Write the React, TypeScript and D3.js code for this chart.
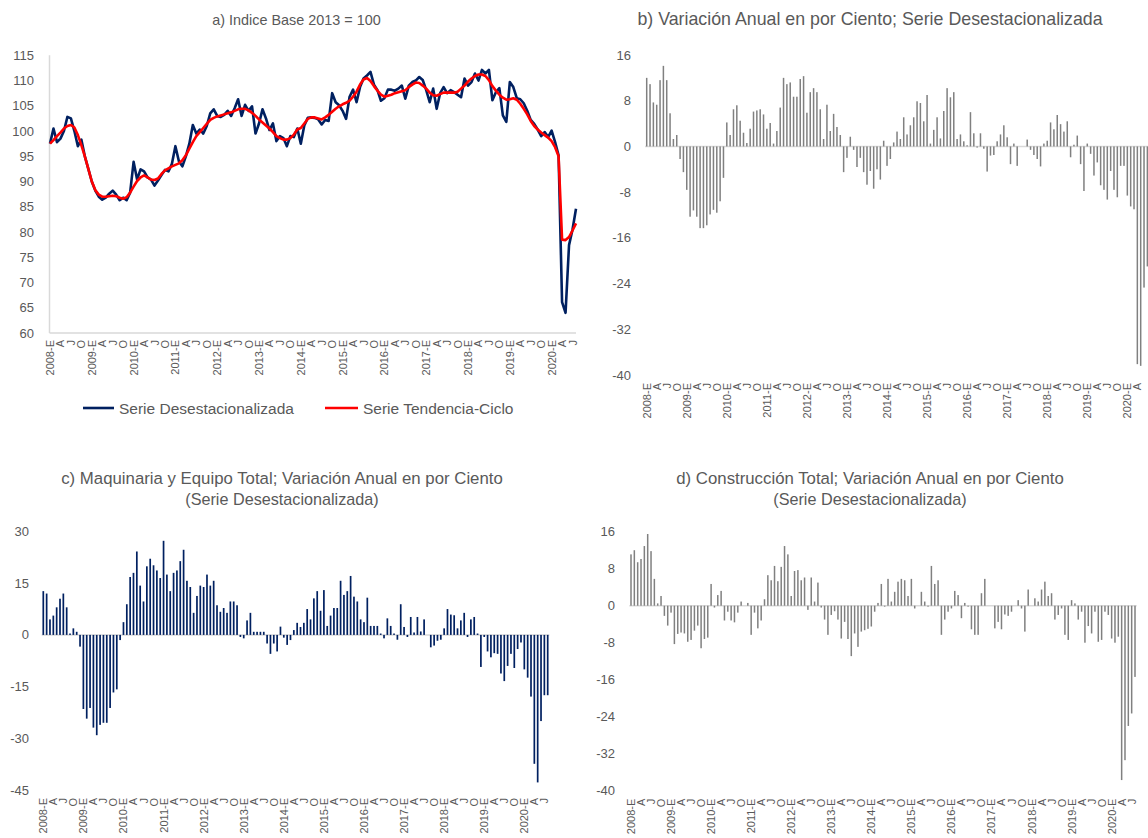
import React from 'react';
import * as d3 from 'd3';

// ---------- categories (2008-01 .. 2020-08) ----------
const startYear = 2008;
const nMonths = 152;
const months: string[] = Array.from({ length: nMonths }, (_, i) =>
  `${startYear + Math.floor(i / 12)}-${String((i % 12) + 1).padStart(2, '0')}`
);
const quarterLetters: Record<number, string> = { 0: 'E', 3: 'A', 6: 'J', 9: 'O' };

// ---------- series ----------
const serieDesestacionalizada = [
  97.5, 100.5, 97.8, 98.5, 100.0, 102.8, 102.5, 100.0, 97.0, 98.3, 95.0, 92.5,
  90.0, 88.2, 87.0, 86.4, 86.8, 87.6, 88.2, 87.4, 86.3, 86.8, 86.3, 87.8,
  93.9, 90.4, 92.4, 92.0, 90.8, 90.4, 89.2, 90.2, 91.3, 92.3, 92.0, 93.5,
  97.0, 94.0, 93.0, 95.0, 97.5, 101.2, 99.5, 100.3, 99.5, 101.0, 103.5, 104.3,
  103.0, 102.8, 103.2, 104.0, 103.0, 104.5, 106.3, 103.0, 105.2, 104.0, 104.9, 99.5,
  101.5, 104.3, 102.5, 100.2, 101.5, 98.0, 99.0, 98.6, 97.0, 99.0, 98.8, 100.5,
  97.5, 101.1, 102.6, 102.7, 102.6, 102.3, 101.3, 102.2, 102.0, 107.5, 105.7, 105.1,
  104.0, 102.4, 106.8, 108.2, 105.7, 108.7, 110.4, 111.0, 111.7, 109.2, 108.1, 106.0,
  106.5, 108.2, 108.2, 108.0, 108.4, 109.0, 106.4, 109.0, 109.7, 110.0, 110.7, 110.1,
  108.1, 105.7, 108.4, 104.4, 107.5, 108.7, 107.5, 108.1, 107.7, 107.2, 106.7, 110.4,
  109.0, 109.7, 111.4, 110.0, 112.1, 111.4, 112.1, 106.1, 107.7, 108.5, 103.1, 101.8,
  109.7, 108.7, 106.5, 106.3, 105.5, 104.0, 102.2, 101.4, 100.3, 99.0, 99.8, 98.8,
  100.1, 97.8, 95.2, 66.1, 64.0, 77.4, 80.5, 84.6,
];

const serieTendenciaCiclo = [
  97.5, 98.2, 99.0, 99.7, 100.5, 101.0, 101.2, 100.7, 99.2, 97.2, 95.0, 92.5,
  90.0, 88.3, 87.4, 87.0, 87.0, 87.1, 87.2, 87.1, 86.8, 86.6, 86.9, 87.8,
  89.0, 90.1, 90.8, 91.2, 90.8, 90.4, 90.3, 90.6, 91.5, 92.2, 92.6, 93.0,
  93.3, 93.6, 94.2, 95.2, 96.5, 97.8, 99.0, 99.8, 100.6, 101.4, 102.2, 102.6,
  102.9, 103.1, 103.3, 103.5, 103.7, 104.0, 104.3, 104.4, 104.4, 104.1, 103.6, 103.0,
  102.3, 101.7, 101.1, 100.5, 99.8, 99.0, 98.6, 98.3, 98.3, 98.6, 99.3, 100.3,
  100.6, 101.5, 102.4, 102.7, 102.7, 102.5, 102.3, 102.7, 103.2, 103.8, 104.4, 104.9,
  105.3, 105.6, 106.0, 106.8, 107.8, 109.2, 110.2, 110.5, 109.9, 108.9, 108.0, 107.2,
  106.8, 107.0, 107.2, 107.5, 107.7, 107.9, 108.1, 108.7, 109.2, 109.6, 109.5, 109.0,
  108.4, 107.6, 107.1, 107.0, 107.3, 107.6, 107.6, 107.6, 107.6, 107.8, 108.4, 109.0,
  109.8, 110.4, 110.9, 111.2, 111.2, 110.9, 110.1, 108.9, 108.0, 107.2, 106.6, 106.2,
  106.3, 106.5, 106.2, 105.4, 104.4, 103.3, 102.0, 101.0, 100.3, 99.7, 99.2, 98.7,
  98.0, 96.8, 95.0, 78.5, 78.4, 79.0, 80.3, 81.7,
];

const variacionTotal = [
  12.0, 10.9, 7.7, 7.3, 11.6, 14.1, 11.6, 5.8, 1.3, 2.0, -2.2, -4.5,
  -7.6, -12.3, -11.2, -12.3, -14.3, -14.3, -13.8, -11.9, -11.1, -11.6, -9.6, -5.5,
  4.2, 2.0, 6.5, 7.2, 4.5, 2.4, 0.6, 3.1, 6.1, 6.3, 6.5, 5.6,
  3.1, 4.1, 0.5, 2.7, 6.8, 12.0, 10.9, 11.2, 8.7, 8.7, 11.8, 12.3,
  5.9, 9.5, 10.2, 9.5, 6.5, 1.3, 7.3, 2.7, 5.7, 3.4, 2.0, -4.5,
  -2.0, 1.7, -0.6, -3.6, -2.0, -4.5, -6.7, -4.3, -7.4, -4.0, -5.8, 1.0,
  -3.4, -2.2, 0.7, 2.6, 1.3, 5.1, 2.1, 3.7, 5.1, 7.9, 7.6, 4.4,
  9.0, 0.5, 2.9, 5.1, 1.4, 6.2, 10.2, 8.6, 9.5, 1.3, 2.1, 0.9,
  0.2, 6.0, 2.3, -0.2, 2.3, -0.4, -4.4, -1.6, -1.5, 0.9, 2.1, 3.7,
  1.6, -3.1, 0.5, -3.4, 0.0, 0.0, 1.2, -0.6, -1.5, -2.2, -3.5, 0.5,
  1.0, 4.2, 3.0, 5.5, 3.9, 2.6, 4.4, -1.9, 0.3, 1.9, -3.1, -7.8,
  0.5, -1.3, -5.1, -2.8, -6.8, -7.6, -9.3, -4.3, -7.6, -8.9, -3.4, -3.4,
  -8.6, -10.5, -11.0, -38.1, -38.4, -24.7, -21.0, -18.0,
];

const variacionMaquinaria = [
  12.7, 12.0, 4.5, 5.6, 8.0, 10.5, 12.0, 8.0, 0.4, 1.9, 0.9, -3.4,
  -21.5, -24.3, -21.2, -26.9, -29.1, -26.1, -25.5, -25.5, -21.2, -16.7, -15.8, -1.5,
  3.7, 8.9, 16.8, 18.0, 24.2, 14.3, 9.7, 19.9, 22.1, 20.2, 18.7, 16.5,
  27.3, 17.5, 12.7, 18.0, 18.7, 21.4, 24.7, 15.7, 13.9, 6.4, 11.3, 14.3,
  13.9, 17.5, 14.3, 15.7, 8.6, 6.7, 7.8, 6.4, 9.7, 9.7, 8.6, -0.6,
  -1.0, 4.2, 6.4, 0.9, 0.9, 0.9, 0.9, -2.5, -5.5, -2.5, -4.8, 2.4,
  -0.8, -2.9, -1.5, 1.4, 3.5, 2.3, 3.5, 7.5, 4.5, 10.6, 12.7, 7.0,
  13.0, 2.6, 5.6, 7.8, 7.8, 15.7, 11.6, 12.7, 17.1, 11.1, 9.7, 4.5,
  3.7, 10.8, 2.6, 2.6, 2.6, 0.4, -1.0, 4.8, 2.6, 0.4, -1.4, 8.9,
  2.3, -0.6, 5.2, 0.7, 5.2, 1.0, 4.5, 0.0, -3.6, -3.1, -1.7, -1.4,
  1.9, 7.5, 5.9, 5.7, 1.9, 4.2, 6.4, -0.6, 4.5, 5.2, 0.4, -9.3,
  -0.6, -4.8, -6.5, -5.3, -5.5, -11.2, -13.4, -9.0, -5.5, -9.6, -4.1, -2.2,
  -10.0, -12.4, -17.9, -37.4, -42.8, -25.0, -17.5, -17.5,
];

const variacionConstruccion = [
  11.1, 12.0, 9.4, 10.1, 12.9, 15.5, 11.8, 5.8, 0.5, 2.1, -2.2, -4.3,
  -1.5, -8.3, -6.1, -5.8, -6.0, -7.8, -7.4, -5.4, -4.3, -9.2, -7.2, -6.9,
  4.7, -0.4, 2.3, 3.2, -3.2, -1.3, -3.2, -3.6, -1.5, 0.9, 0.0, 0.6,
  -6.3, -1.5, -4.9, -3.2, 1.4, 6.6, 5.5, 8.6, 5.3, 8.4, 12.9, 11.1,
  2.1, 7.5, 7.7, 5.5, 6.1, -0.9, 6.1, 0.9, 5.0, -0.4, -3.0, -6.3,
  -2.0, -1.2, -3.0, -7.1, -3.5, -7.2, -10.9, -6.0, -8.9, -5.6, -5.3, -5.0,
  -4.5, -1.3, 0.6, 4.7, -0.2, 5.8, 0.9, 3.0, 5.2, 5.8, 5.5, 2.1,
  5.8, -0.6, 0.0, 3.0, 0.9, -0.2, 8.6, 4.7, 5.5, -6.3, -3.0, -1.3,
  -0.6, 3.2, 2.3, -2.7, 0.6, -0.2, -5.1, -6.3, -6.3, 2.7, 5.8, 0.0,
  0.0, -4.9, -3.5, -5.1, -1.9, -2.2, -1.3, 0.0, 1.2, -0.6, -5.6, 3.5,
  0.0, 1.6, 0.9, 3.5, 5.2, 2.1, 2.7, -3.0, -2.0, -0.6, -6.3, -7.4,
  1.2, 0.5, -3.0, -1.3, -8.0, -4.4, -6.0, -1.3, -7.8, -7.4, -1.3, -2.0,
  -7.1, -8.0, -6.7, -37.7, -33.4, -26.0, -23.3, -15.4,
];

// ---------- ticks ----------
const ticksIndice = [60, 65, 70, 75, 80, 85, 90, 95, 100, 105, 110, 115];
const ticksTotal = [16, 8, 0, -8, -16, -24, -32, -40];
const ticksMaquinaria = [30, 15, 0, -15, -30, -45];
const ticksConstruccion = [16, 8, 0, -8, -16, -24, -32, -40];

const W = 1148;
const H = 838;

const monthLabel = (i: number): string | null => {
  const m = i % 12;
  if (!(m in quarterLetters)) return null;
  return m === 0 ? `${startYear + Math.floor(i / 12)}-E` : quarterLetters[m];
};

const FONT = "'Liberation Sans', Arial, sans-serif";
const TEXT = '#595959';
const AXIS = '#D9D9D9';
const NAVY = '#002060';
const RED = '#FF0000';

function XLabels({ x, top }: { x: d3.ScalePoint<string>; top: number }) {
  return (
    <g>
      {months.map((mth, i) => {
        const lab = monthLabel(i);
        if (!lab) return null;
        const px = x(mth)!;
        if (px > W - 5) return null; // beyond the picture edge, as in the reference
        return (
          <text
            key={mth}
            transform={`translate(${px},${top}) rotate(-90)`}
            textAnchor="end"
            dominantBaseline="central"
            fontSize={11}
            fill={TEXT}
            fontFamily={FONT}
          >
            {lab}
          </text>
        );
      })}
    </g>
  );
}

function YLabels({ y, ticks, right }: { y: d3.ScaleLinear<number, number>; ticks: number[]; right: number }) {
  return (
    <g>
      {ticks.map((t) => (
        <text key={t} x={right} y={y(t)} textAnchor="end" dominantBaseline="central" fontSize={13} fill={TEXT} fontFamily={FONT}>
          {t}
        </text>
      ))}
    </g>
  );
}

type TitleLine = { text: string; size: number };

function Title({ lines, cx, y0 }: { lines: TitleLine[]; cx: number; y0: number }) {
  return (
    <g>
      {lines.map((l, k) => (
        <text key={k} x={cx} y={y0 + k * 21} textAnchor="middle" fontSize={l.size} fill={TEXT} fontFamily={FONT}>
          {l.text}
        </text>
      ))}
    </g>
  );
}

function LinePanel() {
  const x = d3.scalePoint<string>().domain(months).range([50, 576]);
  const y = d3.scaleLinear().domain([60, 115]).range([333, 55.3]);
  const line = d3
    .line<number>()
    .x((_, i) => x(months[i])!)
    .y((v) => y(v));
  return (
    <g>
      <Title lines={[{ text: 'a) Indice Base 2013 = 100', size: 14.4 }]} cx={296.5} y0={24.5} />
      <line x1={49.5} x2={49.5} y1={y(115)} y2={y(60)} stroke={AXIS} strokeWidth={1.5} />
      <line x1={49.5} x2={576} y1={y(60)} y2={y(60)} stroke={AXIS} strokeWidth={1.5} />
      <YLabels y={y} ticks={ticksIndice} right={34} />
      <path d={line(serieDesestacionalizada) || ''} fill="none" stroke={NAVY} strokeWidth={2.6} strokeLinejoin="round" />
      <path d={line(serieTendenciaCiclo) || ''} fill="none" stroke={RED} strokeWidth={2.6} strokeLinejoin="round" />
      <XLabels x={x} top={340} />
      <g fontFamily={FONT} fontSize={15.5} fill={TEXT}>
        <line x1={83} x2={114} y1={408} y2={408} stroke={NAVY} strokeWidth={2.6} />
        <text x={119} y={408} dominantBaseline="central">Serie Desestacionalizada</text>
        <line x1={325} x2={358} y1={408} y2={408} stroke={RED} strokeWidth={2.6} />
        <text x={363} y={408} dominantBaseline="central">Serie Tendencia-Ciclo</text>
      </g>
    </g>
  );
}

type BarProps = {
  values: number[];
  xr: [number, number];
  yd: [number, number];
  yr: [number, number];
  ticks: number[];
  tickRight: number;
  color: string;
  barW: number;
  title: TitleLine[];
  titleCx: number;
  titleY: number;
};

function BarPanel(p: BarProps) {
  const x = d3.scalePoint<string>().domain(months).range(p.xr);
  const y = d3.scaleLinear().domain(p.yd).range(p.yr);
  const step = x.step();
  const y0 = y(0);
  return (
    <g>
      <Title lines={p.title} cx={p.titleCx} y0={p.titleY} />
      <YLabels y={y} ticks={p.ticks} right={p.tickRight} />
      <line x1={p.xr[0] - step / 2} x2={p.xr[1] + step / 2} y1={y0} y2={y0} stroke={AXIS} strokeWidth={1.5} />
      {p.values.map((v, i) => {
        const yv = y(v);
        return (
          <rect
            key={i}
            x={x(months[i])! - p.barW / 2}
            y={Math.min(yv, y0)}
            width={p.barW}
            height={Math.abs(yv - y0)}
            fill={p.color}
          />
        );
      })}
      <XLabels x={x} top={y(p.yd[0]) + 8} />
    </g>
  );
}

export default function App() {
  return (
    <svg width={W} height={H} style={{ position: 'absolute', left: 0, top: 0, background: '#fff' }}>
      <rect width={W} height={H} fill="#fff" />
      <LinePanel />
      <BarPanel
        values={variacionTotal}
        xr={[646.7, 1150.7]}
        yd={[-40, 16]}
        yr={[375, 55]}
        ticks={ticksTotal}
        tickRight={631}
        color="#808080"
        barW={1.5}
        title={[{ text: 'b) Variación Anual en por Ciento; Serie Desestacionalizada', size: 17.8 }]}
        titleCx={870}
        titleY={25}
      />
      <BarPanel
        values={variacionMaquinaria}
        xr={[43.3, 547.7]}
        yd={[-45, 30]}
        yr={[790, 531.5]}
        ticks={ticksMaquinaria}
        tickRight={29}
        color={NAVY}
        barW={1.7}
        title={[
          { text: 'c) Maquinaria y Equipo Total; Variación Anual en por Ciento', size: 16.8 },
          { text: '(Serie Desestacionalizada)', size: 16.2 },
        ]}
        titleCx={282}
        titleY={484}
      />
      <BarPanel
        values={variacionConstruccion}
        xr={[631, 1135]}
        yd={[-40, 16]}
        yr={[790.7, 531.7]}
        ticks={ticksConstruccion}
        tickRight={615}
        color="#808080"
        barW={1.5}
        title={[
          { text: 'd) Construcción Total; Variación Anual en por Ciento', size: 16.8 },
          { text: '(Serie Desestacionalizada)', size: 16.2 },
        ]}
        titleCx={870}
        titleY={484}
      />
    </svg>
  );
}
